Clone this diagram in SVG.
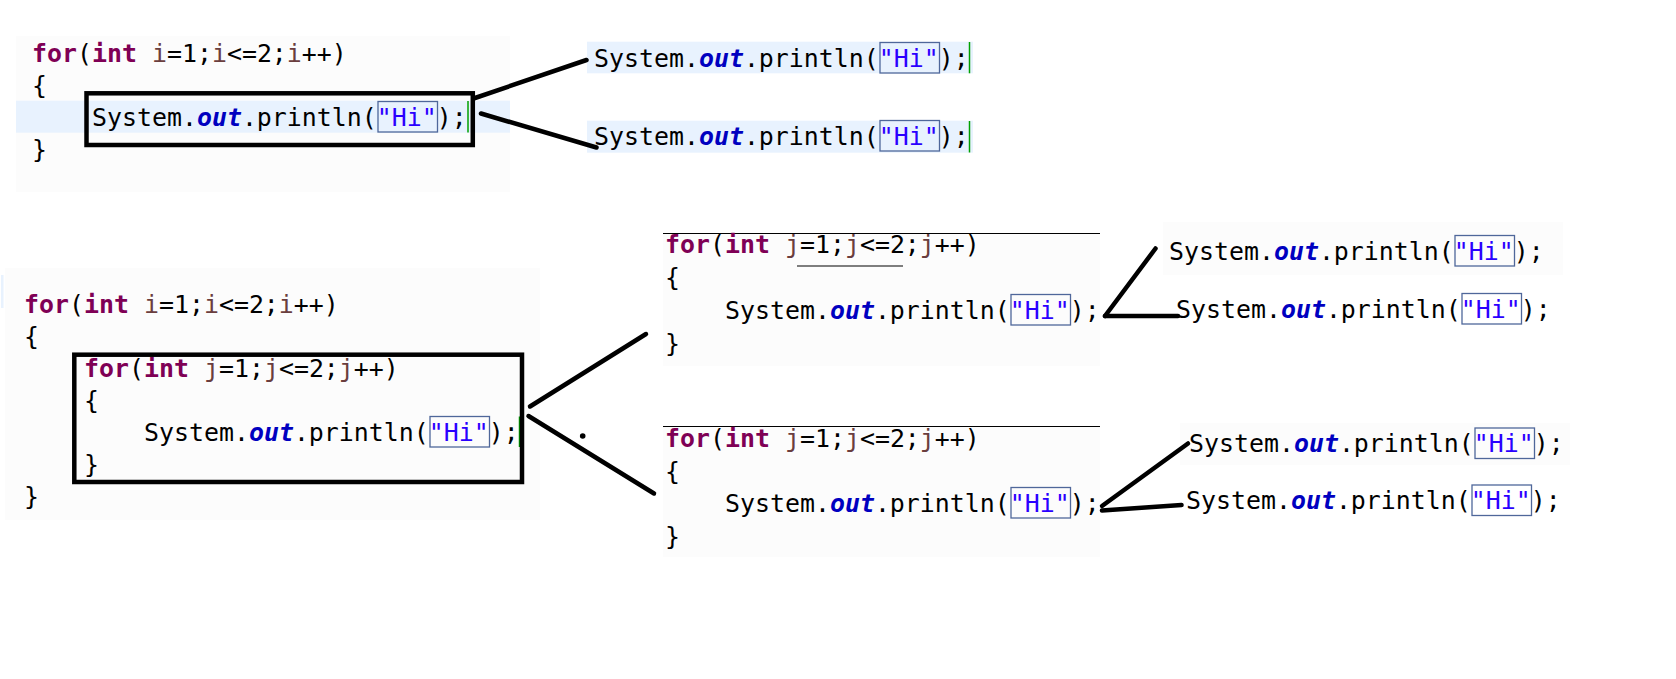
<svg xmlns="http://www.w3.org/2000/svg" width="1676" height="679" viewBox="0 0 1676 679">
<style>
.code{font-family:"DejaVu Sans Mono","Liberation Mono",monospace;font-size:24.9px;fill:#000;white-space:pre}
.kw{fill:#7f0055;font-weight:bold}
.var{fill:#6a3e3e}
.fld{fill:#0000c0;font-weight:bold;font-style:italic}
.str{fill:#2a00ff}
.hibox{fill:none;stroke:#4f679a;stroke-width:1.3}
.band{fill:#e8f2fe}
.panel{fill:#fcfcfc}
.cursor{stroke:#00a000;stroke-width:1.5}
.frame{fill:none;stroke:#000;stroke-width:4.5}
.conn{stroke:#000;stroke-width:4.5;stroke-linecap:round;fill:none}
.rule{stroke:#000;stroke-width:1.2}
</style>
<rect width="1676" height="679" fill="#fff"/>

<g id="loop-top">
<rect class="panel" x="16" y="36" width="494" height="156"/>
<rect class="band" x="16" y="100.7" width="494" height="32"/>
<text class="code" x="32" y="62"><tspan class="kw">for</tspan>(<tspan class="kw">int</tspan> <tspan class="var">i</tspan>=1;<tspan class="var">i</tspan>&lt;=2;<tspan class="var">i</tspan>++)</text>
<text class="code" x="32" y="94">{</text>
<text class="code" x="92" y="126">System.<tspan class="fld">out</tspan>.println(<tspan class="str">"Hi"</tspan>);</text>
<text class="code" x="32" y="158">}</text>
<rect class="hibox" x="378" y="101.5" width="59.5" height="30.5"/>
<line class="cursor" x1="468" y1="101" x2="468" y2="132.5"/>
<rect class="frame" x="86.5" y="93.3" width="386.3" height="51.7"/>
</g>

<g id="out-top-1">
<rect class="band" x="587" y="41.7" width="386" height="31.6"/>
<text class="code" x="594" y="67">System.<tspan class="fld">out</tspan>.println(<tspan class="str">"Hi"</tspan>);</text>
<rect class="hibox" x="880" y="42.5" width="59.5" height="30.5"/>
<line class="cursor" x1="969.5" y1="42" x2="969.5" y2="73.3"/>
</g>

<g id="out-top-2">
<rect class="band" x="587" y="120.7" width="386" height="32"/>
<text class="code" x="594" y="145">System.<tspan class="fld">out</tspan>.println(<tspan class="str">"Hi"</tspan>);</text>
<rect class="hibox" x="880" y="120.5" width="59.5" height="30.5"/>
<line class="cursor" x1="969.5" y1="121" x2="969.5" y2="152.5"/>
</g>

<g id="loop-nested">
<rect class="panel" x="5" y="268" width="535" height="252"/>
<rect class="band" x="1" y="275" width="2.5" height="33"/>
<text class="code" x="24" y="313"><tspan class="kw">for</tspan>(<tspan class="kw">int</tspan> <tspan class="var">i</tspan>=1;<tspan class="var">i</tspan>&lt;=2;<tspan class="var">i</tspan>++)</text>
<text class="code" x="24" y="345">{</text>
<text class="code" x="84" y="377"><tspan class="kw">for</tspan>(<tspan class="kw">int</tspan> <tspan class="var">j</tspan>=1;<tspan class="var">j</tspan>&lt;=2;<tspan class="var">j</tspan>++)</text>
<text class="code" x="84" y="409">{</text>
<text class="code" x="144" y="441">System.<tspan class="fld">out</tspan>.println(<tspan class="str">"Hi"</tspan>);</text>
<text class="code" x="84" y="473">}</text>
<text class="code" x="24" y="505">}</text>
<rect class="hibox" x="430" y="416.5" width="59.5" height="30.5"/>
<line class="cursor" x1="519.5" y1="416.5" x2="519.5" y2="447"/>
<rect class="frame" x="74.3" y="354.7" width="447.7" height="127.3"/>
</g>

<g id="inner-1">
<rect class="panel" x="663" y="234" width="437" height="132"/>
<line class="rule" x1="663" y1="233.5" x2="1100" y2="233.5"/>
<text class="code" x="665" y="253"><tspan class="kw">for</tspan>(<tspan class="kw">int</tspan> <tspan class="var">j</tspan>=1;<tspan class="var">j</tspan>&lt;=2;<tspan class="var">j</tspan>++)</text>
<line class="rule" x1="797" y1="266" x2="903" y2="266"/>
<text class="code" x="665" y="286">{</text>
<text class="code" x="725" y="319">System.<tspan class="fld">out</tspan>.println(<tspan class="str">"Hi"</tspan>);</text>
<text class="code" x="665" y="352">}</text>
<rect class="hibox" x="1011" y="294.5" width="59.5" height="30.5"/>
</g>

<g id="inner-2">
<rect class="panel" x="663" y="427" width="437" height="130"/>
<line class="rule" x1="663" y1="426.5" x2="1100" y2="426.5"/>
<text class="code" x="665" y="446.5"><tspan class="kw">for</tspan>(<tspan class="kw">int</tspan> <tspan class="var">j</tspan>=1;<tspan class="var">j</tspan>&lt;=2;<tspan class="var">j</tspan>++)</text>
<text class="code" x="665" y="479.5">{</text>
<text class="code" x="725" y="512">System.<tspan class="fld">out</tspan>.println(<tspan class="str">"Hi"</tspan>);</text>
<text class="code" x="665" y="545">}</text>
<rect class="hibox" x="1011" y="487.5" width="59.5" height="30.5"/>
</g>

<g id="out-r1">
<rect class="panel" x="1163" y="222" width="400" height="53"/>
<text class="code" x="1169" y="259.5">System.<tspan class="fld">out</tspan>.println(<tspan class="str">"Hi"</tspan>);</text>
<rect class="hibox" x="1455" y="235.5" width="59.5" height="30.5"/>
</g>

<g id="out-r2">
<text class="code" x="1176" y="317.5">System.<tspan class="fld">out</tspan>.println(<tspan class="str">"Hi"</tspan>);</text>
<rect class="hibox" x="1462" y="293.5" width="59.5" height="30.5"/>
</g>

<g id="out-r3">
<rect class="panel" x="1180" y="423" width="390" height="42"/>
<text class="code" x="1189" y="452">System.<tspan class="fld">out</tspan>.println(<tspan class="str">"Hi"</tspan>);</text>
<rect class="hibox" x="1475" y="428" width="59.5" height="30.5"/>
</g>

<g id="out-r4">
<text class="code" x="1186" y="509">System.<tspan class="fld">out</tspan>.println(<tspan class="str">"Hi"</tspan>);</text>
<rect class="hibox" x="1472" y="485" width="59.5" height="30.5"/>
</g>

<g id="connectors">
<line class="conn" x1="473.5" y1="98.5" x2="586.5" y2="60"/>
<line class="conn" x1="481" y1="113.5" x2="596.5" y2="147.5"/>
<line class="conn" x1="530" y1="406.5" x2="646" y2="334"/>
<line class="conn" x1="528.5" y1="416" x2="654" y2="493.5"/>
<line class="conn" x1="1105" y1="316" x2="1155.5" y2="248.5"/>
<line class="conn" x1="1105" y1="316" x2="1178" y2="316"/>
<line class="conn" x1="1102" y1="506" x2="1188" y2="443.5"/>
<line class="conn" x1="1102" y1="510.5" x2="1181.5" y2="505"/>
<circle cx="582.7" cy="436" r="2.8" fill="#000"/>
</g>
</svg>
